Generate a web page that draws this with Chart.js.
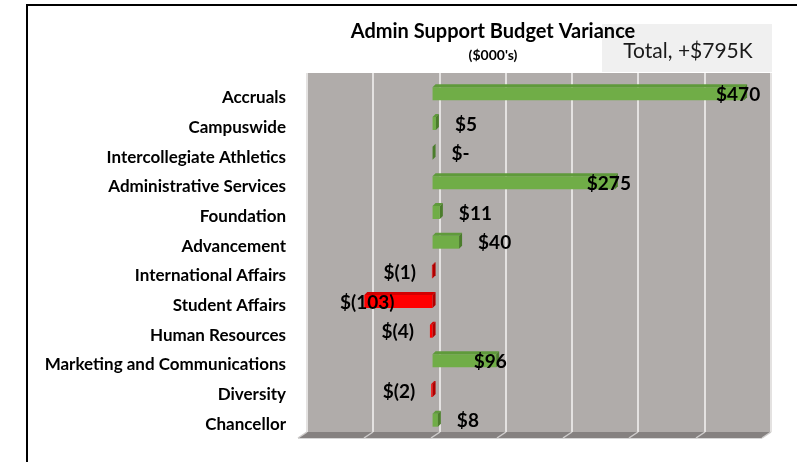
<!DOCTYPE html>
<html>
<head>
<meta charset="utf-8">
<script src="https://cdn.jsdelivr.net/npm/chart.js@4.4.1/dist/chart.umd.min.js"></script>
<style>
  html, body { margin: 0; padding: 0; background: #fff; }
  #wrap { position: relative; width: 797px; height: 462px; overflow: hidden; }
  #frame { position: absolute; left: 26px; top: 4px; right: -4px; bottom: -4px;
           border-top: 2px solid #000; border-left: 2px solid #000; pointer-events: none; }
</style>
</head>
<body>
<div id="wrap">
  <canvas id="chart" width="797" height="462"></canvas>
  <div id="frame"></div>
</div>
<script>
// Budget variance by unit, in $000's
const categories = [
  'Accruals', 'Campuswide', 'Intercollegiate Athletics', 'Administrative Services',
  'Foundation', 'Advancement', 'International Affairs', 'Student Affairs',
  'Human Resources', 'Marketing and Communications', 'Diversity', 'Chancellor'
];
const variance = [470, 5, 0, 275, 11, 40, -1, -103, -4, 96, -2, 8];
const axisMin = -200;
const axisMax = 500;
const axisStep = 100;
const titleText = 'Admin Support Budget Variance';
const subtitleText = "($000's)";
const totalText = 'Total, +$795K';

const FONT = 'Lato, "Open Sans", sans-serif';
const DX = 7, DY = -6;     // depth offset of the back wall
const BAR_D = 3;           // depth of each bar

const fmt = v => v === 0 ? '$-' : v < 0 ? '$(' + (-v) + ')' : '$' + v;

// back wall, gridlines and floor
const wall3d = {
  id: 'wall3d',
  beforeDatasetsDraw(chart) {
    const { ctx, chartArea: ca } = chart;
    const xs = chart.scales.x;
    const top = ca.top + DY, back = ca.bottom - 3, front = ca.bottom + 3;
    const l = ca.left + DX, r = ca.right + DX;
    ctx.save();
    ctx.fillStyle = '#b0acaa';
    ctx.fillRect(l, top, r - l, back - top);
    // floor
    ctx.fillStyle = '#858180';
    ctx.beginPath();
    ctx.moveTo(l, back); ctx.lineTo(r, back); ctx.lineTo(r - 9, front); ctx.lineTo(l - 9, front);
    ctx.closePath(); ctx.fill();
    ctx.strokeStyle = '#d6d6d6'; ctx.lineWidth = 1;
    ctx.beginPath(); ctx.moveTo(l - 9, front + 0.5); ctx.lineTo(r - 9, front + 0.5); ctx.stroke();
    // gridlines
    for (let v = axisMin; v <= axisMax; v += axisStep) {
      const x = Math.round(xs.getPixelForValue(v) + DX);
      ctx.strokeStyle = '#e4e2e1'; ctx.lineWidth = 2;
      ctx.beginPath(); ctx.moveTo(x, top); ctx.lineTo(x, back); ctx.stroke();
      ctx.strokeStyle = '#cfcdcc'; ctx.lineWidth = 1.5;
      ctx.beginPath(); ctx.moveTo(x, back); ctx.lineTo(x - 9, front); ctx.stroke();
    }
    ctx.restore();
  }
};

// top and end faces for each bar
const bar3d = {
  id: 'bar3d',
  afterDatasetsDraw(chart) {
    const { ctx } = chart;
    const meta = chart.getDatasetMeta(0);
    ctx.save();
    meta.data.forEach((el, i) => {
      const neg = variance[i] < 0;
      const lo = Math.min(el.x, el.base), hi = Math.max(el.x, el.base);
      const t = el.y - el.height / 2, b = el.y + el.height / 2;
      ctx.fillStyle = neg ? '#d40000' : '#5f9a3b';
      ctx.beginPath();
      ctx.moveTo(lo, t); ctx.lineTo(lo + BAR_D, t - BAR_D); ctx.lineTo(hi + BAR_D, t - BAR_D); ctx.lineTo(hi, t);
      ctx.closePath(); ctx.fill();
      ctx.fillStyle = neg ? '#b00000' : '#4b7d2c';
      ctx.beginPath();
      ctx.moveTo(hi, t); ctx.lineTo(hi + BAR_D, t - BAR_D); ctx.lineTo(hi + BAR_D, b - BAR_D); ctx.lineTo(hi, b);
      ctx.closePath(); ctx.fill();
    });
    ctx.restore();
  }
};

// value labels
const valueLabels = {
  id: 'valueLabels',
  afterDatasetsDraw(chart) {
    const { ctx } = chart;
    const meta = chart.getDatasetMeta(0);
    ctx.save();
    ctx.font = 'bold 19px ' + FONT;
    ctx.fillStyle = '#000';
    ctx.textBaseline = 'middle';
    meta.data.forEach((el, i) => {
      const v = variance[i];
      const y = el.y + 1;
      if (v >= 60) {
        ctx.textAlign = 'center'; ctx.fillText(fmt(v), el.x - 6, y);
      } else if (v <= -60) {
        ctx.textAlign = 'center'; ctx.fillText(fmt(v), el.x + 3, y);
      } else if (v >= 0) {
        ctx.textAlign = 'left'; ctx.fillText(fmt(v), Math.max(el.x, el.base) + BAR_D + 16, y);
      } else {
        ctx.textAlign = 'right'; ctx.fillText(fmt(v), Math.min(el.x, el.base) - 16, y);
      }
    });
    ctx.restore();
  }
};

// title, subtitle and the total note
const decor = {
  id: 'decor',
  beforeDraw(chart) {
    const { ctx } = chart;
    ctx.save();
    ctx.fillStyle = '#f0f0f0';
    ctx.fillRect(602, 24, 170, 48);
    ctx.restore();
  },
  afterDraw(chart) {
    const { ctx } = chart;
    ctx.save();
    ctx.textAlign = 'center';
    ctx.textBaseline = 'middle';
    ctx.fillStyle = '#1a1a1a';
    ctx.font = '21px ' + FONT;
    ctx.fillText(totalText, 688, 51);
    ctx.fillStyle = '#000';
    ctx.font = 'bold 20px ' + FONT;
    ctx.fillText(titleText, 493, 32);
    ctx.font = 'bold 14px ' + FONT;
    ctx.fillText(subtitleText, 493, 55);
    ctx.restore();
  }
};

new Chart(document.getElementById('chart'), {
  type: 'bar',
  data: {
    labels: categories,
    datasets: [{
      data: variance,
      backgroundColor: variance.map(v => v < 0 ? '#ff0000' : '#70ad47'),
      borderWidth: 0,
      categoryPercentage: 1,
      barPercentage: 0.44
    }]
  },
  options: {
    indexAxis: 'y',
    responsive: false,
    animation: false,
    layout: { padding: { top: 79, right: 33, bottom: 27, left: 0 } },
    plugins: { legend: { display: false }, tooltip: { enabled: false } },
    scales: {
      x: { display: false, min: axisMin, max: axisMax, ticks: { stepSize: axisStep } },
      y: {
        grid: { display: false, drawTicks: false },
        border: { display: false },
        ticks: { color: '#000', padding: 14, labelOffset: 4, font: { family: FONT, weight: 'bold', size: 17 } },
        afterFit: s => { s.width = 300; }
      }
    }
  },
  plugins: [decor, wall3d, bar3d, valueLabels]
});
</script>
</body>
</html>
